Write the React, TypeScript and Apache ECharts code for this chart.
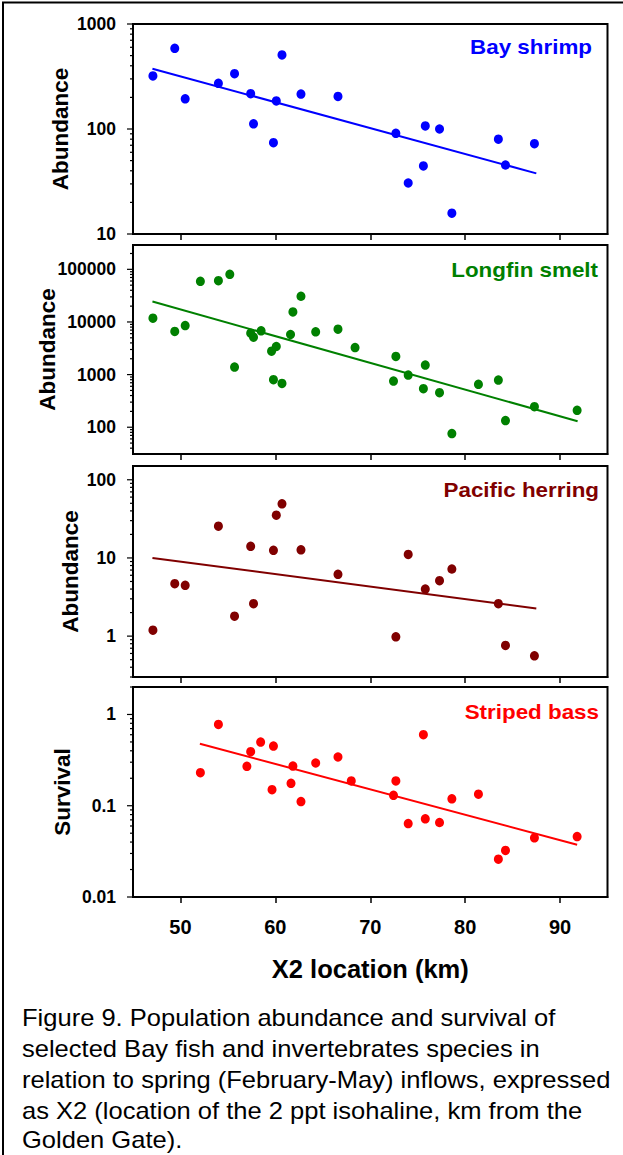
import React, { useEffect, useRef } from 'react';
import * as echarts from 'echarts';

const X_MIN = 45;
const X_MAX = 95;
const xTickValues = [50, 60, 70, 80, 90];

const shrimpX = [47.1, 49.4, 50.5, 54.0, 55.7, 57.4, 57.7, 59.8, 60.1, 60.7, 62.7, 66.6, 72.7, 74.0, 75.6, 75.8, 77.3, 78.6, 83.5, 84.25, 87.3];
const shrimpY = [320, 586, 194, 272, 336, 217, 112, 74, 185, 507, 215, 204, 91, 30.6, 44.5, 107, 100, 15.8, 80, 45.4, 72.5];
const shrimpTrendX = [47.05, 87.5];
const shrimpTrendY = [375, 37.8];

const smeltX = [47.1, 49.4, 50.5, 52.1, 54.0, 55.2, 55.7, 57.4, 57.7, 58.5, 59.6, 59.8, 60.1, 60.7, 61.6, 61.85, 62.7, 64.25, 66.6, 68.4, 72.45, 72.7, 74.0, 75.6, 75.8, 77.3, 78.6, 81.4, 83.5, 84.25, 87.3, 91.8];
const smeltY = [11800, 6600, 8560, 59300, 61000, 80400, 1390, 6130, 5140, 6780, 2790, 800, 3420, 681, 5780, 15500, 30800, 6490, 7290, 3270, 754, 2210, 980, 540, 1520, 453, 75.7, 652, 787, 134, 246, 210];
const smeltTrendX = [47.05, 91.85];
const smeltTrendY = [24400, 130];

const herringX = [47.1, 49.4, 50.5, 54.0, 55.7, 57.4, 57.7, 59.8, 60.1, 60.7, 62.7, 66.6, 72.7, 74.0, 75.8, 77.3, 78.6, 83.5, 84.25, 87.3];
const herringY = [1.19, 4.69, 4.46, 25.5, 1.8, 14.1, 2.6, 12.5, 35.2, 49.2, 12.7, 6.18, 0.98, 11.1, 4.0, 5.12, 7.22, 2.6, 0.76, 0.56];
const herringTrendX = [47.05, 87.5];
const herringTrendY = [10.0, 2.26];

const bassX = [52.1, 54.0, 57.0, 57.4, 58.45, 59.65, 59.8, 61.65, 61.85, 62.7, 64.25, 66.6, 68.0, 72.45, 72.7, 74.0, 75.6, 75.8, 77.3, 78.6, 81.4, 83.5, 84.25, 87.3, 91.8];
const bassY = [0.23, 0.778, 0.27, 0.391, 0.499, 0.15, 0.451, 0.176, 0.272, 0.111, 0.294, 0.342, 0.187, 0.13, 0.187, 0.0638, 0.6, 0.0718, 0.0655, 0.119, 0.134, 0.026, 0.0324, 0.0445, 0.046];
const bassTrendX = [52.05, 91.8];
const bassTrendY = [0.478, 0.0373];

const panelNames = ['Bay shrimp', 'Longfin smelt', 'Pacific herring', 'Striped bass'];
const panelColors = ['#0000FF', '#008000', '#800000', '#FF0000'];
const yTitles = ['Abundance', 'Abundance', 'Abundance', 'Survival'];
const yMins = [10, 31, 0.3, 0.01];
const yMaxs = [1000, 290000, 150, 2];
const xTitle = 'X2 location (km)';
const captionLines = [
  'Figure 9. Population abundance and survival of',
  'selected Bay fish and invertebrates species in',
  'relation to spring (February-May) inflows, expressed',
  'as X2 (location of the 2 ppt isohaline, km from the',
  'Golden Gate).',
];

const FONT = '"Liberation Sans", Arial, Helvetica, sans-serif';
const GRID_LEFT = 133;
const GRID_WIDTH = 474.5;
const gridTops = [24, 245, 466, 687];
const gridHeights = [210, 209, 211, 210];
const yTitleX = [60, 47, 70, 62];
const labelRight = [592, 598, 599, 599];
const labelY = [47, 270, 490, 712];
const captionY = [1018, 1049, 1080, 1111, 1140];

function logTicks(min: number, max: number): number[] {
  const out: number[] = [];
  for (let e = Math.floor(Math.log10(min)); e <= Math.ceil(Math.log10(max)); e++) {
    for (let m = 1; m <= 9; m++) {
      const v = m * Math.pow(10, e);
      if (v >= min * 0.9999 && v <= max * 1.0001) out.push(v);
    }
  }
  return out;
}

function isPow10(v: number) {
  const l = Math.log10(v);
  return Math.abs(l - Math.round(l)) < 1e-6;
}

export default function App() {
  const ref = useRef<HTMLDivElement>(null);
  useEffect(() => {
    document.body.style.margin = '0';
    if (!ref.current) return;
    const chart = echarts.init(ref.current, undefined, { renderer: 'svg' });
    const xs = [shrimpX, smeltX, herringX, bassX];
    const ys = [shrimpY, smeltY, herringY, bassY];
    const txs = [shrimpTrendX, smeltTrendX, herringTrendX, bassTrendX];
    const tys = [shrimpTrendY, smeltTrendY, herringTrendY, bassTrendY];

    const grids = gridTops.map((t, i) => ({
      left: GRID_LEFT,
      top: t,
      width: GRID_WIDTH,
      height: gridHeights[i],
      show: true,
      borderColor: '#000',
      borderWidth: 2,
      backgroundColor: 'transparent',
    }));
    const xAxes = gridTops.map((_, i) => ({
      type: 'value',
      gridIndex: i,
      min: X_MIN,
      max: X_MAX,
      splitLine: { show: false },
      axisLine: { show: true, lineStyle: { color: '#000', width: 2 } },
      axisTick: { show: true, length: 6, customValues: xTickValues, lineStyle: { color: '#000', width: 1.5 } },
      axisLabel: {
        show: i === 3,
        customValues: xTickValues,
        margin: 20,
        fontSize: 20,
        fontWeight: 'bold',
        color: '#000',
        fontFamily: FONT,
      },
      name: i === 3 ? xTitle : '',
      nameLocation: 'middle',
      nameGap: 59,
      nameTextStyle: { fontSize: 25.5, fontWeight: 'bold', color: '#000', fontFamily: FONT },
    }));
    const yAxes = gridTops.map((_, i) => ({
      type: 'log',
      logBase: 10,
      gridIndex: i,
      min: yMins[i],
      max: yMaxs[i],
      splitLine: { show: false },
      axisLine: { show: true, lineStyle: { color: '#000', width: 2 } },
      axisTick: { show: false },
      axisLabel: {
        margin: 17,
        fontSize: 17.5,
        fontWeight: 'bold',
        color: '#000',
        fontFamily: FONT,
        showMinLabel: true,
        showMaxLabel: true,
        formatter: (v: number) => (isPow10(v) ? String(Number(v.toPrecision(6))) : ''),
      },
    }));

    const series: any[] = [];
    gridTops.forEach((_, i) => {
      const ticks = logTicks(yMins[i], yMaxs[i]);
      series.push({
        type: 'custom',
        xAxisIndex: i,
        yAxisIndex: i,
        silent: true,
        clip: false,
        data: ticks.map((v) => [X_MIN, v]),
        renderItem: (params: any, api: any) => {
          const v = api.value(1);
          const p = api.coord([X_MIN, v]);
          const len = isPow10(v) ? 6 : 3;
          return {
            type: 'line',
            shape: { x1: p[0] - len, y1: p[1], x2: p[0], y2: p[1] },
            style: { stroke: '#000', lineWidth: 1.2 },
          };
        },
      });
      series.push({
        type: 'line',
        xAxisIndex: i,
        yAxisIndex: i,
        showSymbol: false,
        silent: true,
        data: txs[i].map((x, k) => [x, tys[i][k]]),
        lineStyle: { color: panelColors[i], width: 2 },
      });
      series.push({
        type: 'scatter',
        xAxisIndex: i,
        yAxisIndex: i,
        symbol: 'circle',
        symbolSize: [9, 9.5],
        data: xs[i].map((x, k) => [x, ys[i][k]]),
        itemStyle: { color: panelColors[i], opacity: 1 },
      });
    });

    const graphic: any[] = [
      { type: 'line', shape: { x1: 2, y1: 2.5, x2: 623, y2: 2.5 }, style: { stroke: '#000', lineWidth: 2 } },
      { type: 'line', shape: { x1: 3, y1: 2, x2: 3, y2: 1155 }, style: { stroke: '#000', lineWidth: 2 } },
    ];
    yTitles.forEach((t, i) => {
      graphic.push({
        type: 'text',
        x: yTitleX[i],
        y: gridTops[i] + gridHeights[i] / 2,
        rotation: Math.PI / 2,
        style: {
          text: t,
          fill: '#000',
          font: `bold 22.5px ${FONT}`,
          textAlign: 'center',
          textVerticalAlign: 'middle',
        },
      });
    });
    panelNames.forEach((n, i) => {
      graphic.push({
        type: 'text',
        x: labelRight[i],
        y: labelY[i],
        scaleX: 1.12,
        style: {
          text: n,
          fill: panelColors[i],
          font: `bold 20px ${FONT}`,
          textAlign: 'right',
          textVerticalAlign: 'middle',
        },
      });
    });
    captionLines.forEach((line, k) => {
      graphic.push({
        type: 'text',
        x: 22,
        y: captionY[k],
        scaleX: 1.11,
        style: {
          text: line,
          fill: '#000',
          font: `23px ${FONT}`,
          lineHeight: 20,
          textAlign: 'left',
          textVerticalAlign: 'middle',
        },
      });
    });

    chart.setOption({
      animation: false,
      backgroundColor: '#fff',
      grid: grids,
      xAxis: xAxes,
      yAxis: yAxes,
      series,
      graphic,
    });
    return () => chart.dispose();
  }, []);
  return <div ref={ref} style={{ width: 623, height: 1155 }} />;
}
